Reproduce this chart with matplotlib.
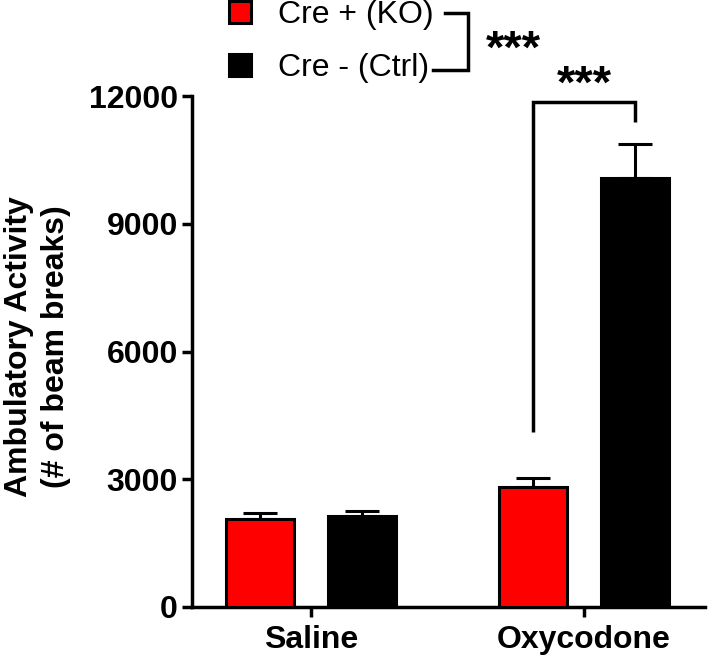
import matplotlib
matplotlib.use("Agg")
import matplotlib.pyplot as plt
from matplotlib.patches import Patch
from matplotlib.lines import Line2D
import numpy as np

plt.rcParams['font.family'] = ['Liberation Sans', 'DejaVu Sans']

# data
groups = ["Saline", "Oxycodone"]
ko_mean = [2065, 2820]
ko_sem = [140, 210]
ctrl_mean = [2135, 10070]
ctrl_sem = [120, 800]
series_labels = ["Cre + (KO)", "Cre - (Ctrl)"]

W, H = 709, 662
fig = plt.figure(figsize=(W / 100, H / 100), dpi=100)
ax = fig.add_axes([192 / W, 1 - 607 / H, (705 - 192) / W, (607 - 96) / H])

x = np.arange(len(groups))
off = 0.187
bw = 0.25
lw = 2.5

ax.bar(x - off, ko_mean, width=bw, color="#ff0000", edgecolor="black",
       linewidth=2.2, zorder=3)
ax.bar(x + off, ctrl_mean, width=bw, color="black", edgecolor="black",
       linewidth=2.2, zorder=3)
ax.errorbar(x - off, ko_mean, yerr=[np.zeros(len(x)), ko_sem], fmt="none",
            ecolor="black", elinewidth=2.2, capsize=12, capthick=2.2, zorder=2)
ax.errorbar(x + off, ctrl_mean, yerr=[np.zeros(len(x)), ctrl_sem], fmt="none",
            ecolor="black", elinewidth=2.2, capsize=12, capthick=2.2, zorder=2)

ax.set_xlim(-0.436, 1.443)
ax.set_ylim(0, 12000)
ax.set_yticks([0, 3000, 6000, 9000, 12000])
ax.set_xticks(x)
ax.set_xticklabels(groups)
for s in ["top", "right"]:
    ax.spines[s].set_visible(False)
for s in ["left", "bottom"]:
    ax.spines[s].set_linewidth(lw)
ax.tick_params(width=lw, length=7, labelsize=23)
ax.tick_params(axis="x", pad=6)
ax.tick_params(axis="y", pad=3)
for t in ax.get_xticklabels() + ax.get_yticklabels():
    t.set_fontweight("bold")
ax.set_ylabel("Ambulatory Activity\n(# of beam breaks)", fontsize=23,
              fontweight="bold", linespacing=1.3)
ax.yaxis.set_label_coords(-0.236, 0.51)

# significance bracket over Oxycodone
bx0, bx1 = x[1] - off, x[1] + off
ax.plot([bx0, bx0, bx1, bx1], [4110, 11860, 11860, 11390], color="black",
        lw=2.5, clip_on=False, solid_capstyle="butt", solid_joinstyle="miter")
ax.text(x[1], 11950, "***", ha="center", va="baseline", fontsize=34,
        fontweight="bold", clip_on=False)

# legend
handles = [Patch(facecolor="#ff0000", edgecolor="black", linewidth=2.2),
           Patch(facecolor="black", edgecolor="black", linewidth=2.2)]
fig.legend(handles=handles, labels=series_labels, loc="upper left",
           bbox_to_anchor=(226 / W, 1 + 3 / H), frameon=False, fontsize=23,
           handlelength=0.68, handleheight=0.68, handletextpad=0.85,
           labelspacing=0.72, borderpad=0.1, borderaxespad=0)

# bracket joining legend entries
def fx(px):
    return px / W

def fy(py):
    return 1 - py / H

fig.add_artist(Line2D([fx(445), fx(468), fx(468), fx(433)],
                      [fy(13), fy(13), fy(70), fy(70)], color="black", lw=2.5,
                      solid_joinstyle="miter", transform=fig.transFigure))
fig.text(fx(513), fy(63), "***", ha="center", va="baseline", fontsize=34,
         fontweight="bold")

fig.savefig("out.png", dpi=100)
